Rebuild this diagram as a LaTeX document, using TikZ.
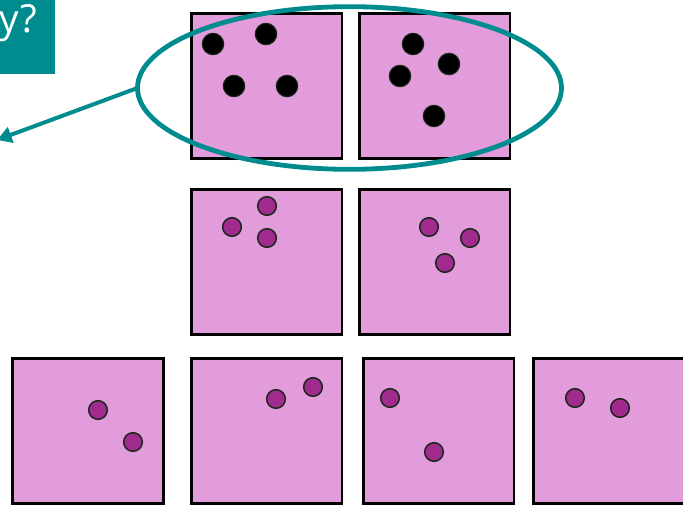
\documentclass[tikz,border=0pt]{standalone}
\usepackage{fontspec}
\setmainfont{Open Sans}
\usetikzlibrary{shapes.geometric,arrows.meta}
\definecolor{tealc}{RGB}{0,140,142}
\definecolor{pinkc}{RGB}{227,156,219}
\definecolor{purplec}{RGB}{160,42,142}
\definecolor{rimc}{RGB}{22,38,22}
\begin{document}
\begin{tikzpicture}[x=0.75pt,y=-0.75pt,
  panel/.style={draw=black,fill=pinkc,line width=2pt,minimum width=113pt,minimum height=109pt,inner sep=0pt,outer sep=0pt},
  bigdot/.style={circle,draw=rimc,fill=black,line width=0.9pt,minimum size=16pt,inner sep=0pt},
  smalldot/.style={circle,draw=rimc,fill=purplec,line width=1.1pt,minimum size=14pt,inner sep=0pt},
  ring/.style={ellipse,draw=tealc,line width=3.6pt,minimum width=318pt,minimum height=122pt,inner sep=0pt,outer sep=0pt}]
\useasboundingbox (0,0) rectangle (683,506);
% teal label box (cropped)
\node[fill=tealc,minimum width=60pt,minimum height=66pt,inner sep=0pt,anchor=south east] (qbox) at (55,74) {};
\node[text=white,font=\fontsize{29}{32}\selectfont,anchor=base east,inner sep=0pt] (qtext) at (37,33) {Why?};
% row 1
\node[panel] (A) at (266.5,86) {};
\node[panel] (B) at (434.5,86) {};
% row 2
\node[panel] (C) at (266.5,262) {};
\node[panel] (D) at (434.5,262) {};
% row 3
\node[panel] (E) at (88,431) {};
\node[panel] (F) at (266.5,431) {};
\node[panel] (G) at (438.5,431) {};
\node[panel] (H) at (609,431) {};
% dots row 1
\node[bigdot] (a1) at (213,44) {};
\node[bigdot] (a2) at (266,34) {};
\node[bigdot] (a3) at (234,86) {};
\node[bigdot] (a4) at (287,86) {};
\node[bigdot] (b1) at (413,44) {};
\node[bigdot] (b2) at (449,64) {};
\node[bigdot] (b3) at (400,76) {};
\node[bigdot] (b4) at (434,116) {};
% dots row 2
\node[smalldot] (c1) at (232,227) {};
\node[smalldot] (c2) at (267,206) {};
\node[smalldot] (c3) at (267,238) {};
\node[smalldot] (d1) at (429,227) {};
\node[smalldot] (d2) at (470,238) {};
\node[smalldot] (d3) at (445,263) {};
% dots row 3
\node[smalldot] (e1) at (98,410) {};
\node[smalldot] (e2) at (133,442) {};
\node[smalldot] (f1) at (276,399) {};
\node[smalldot] (f2) at (313,387) {};
\node[smalldot] (g1) at (390,398) {};
\node[smalldot] (g2) at (434,452) {};
\node[smalldot] (h1) at (575,398) {};
\node[smalldot] (h2) at (620,408) {};
% ellipse and arrow
\node[ring] (ring) at (349.5,88) {};
\coordinate (tip) at (-3,140);
\draw[tealc,line width=3pt,-{Triangle[length=11pt,width=12pt]}] (ring.west) -- (tip);
\end{tikzpicture}
\end{document}
